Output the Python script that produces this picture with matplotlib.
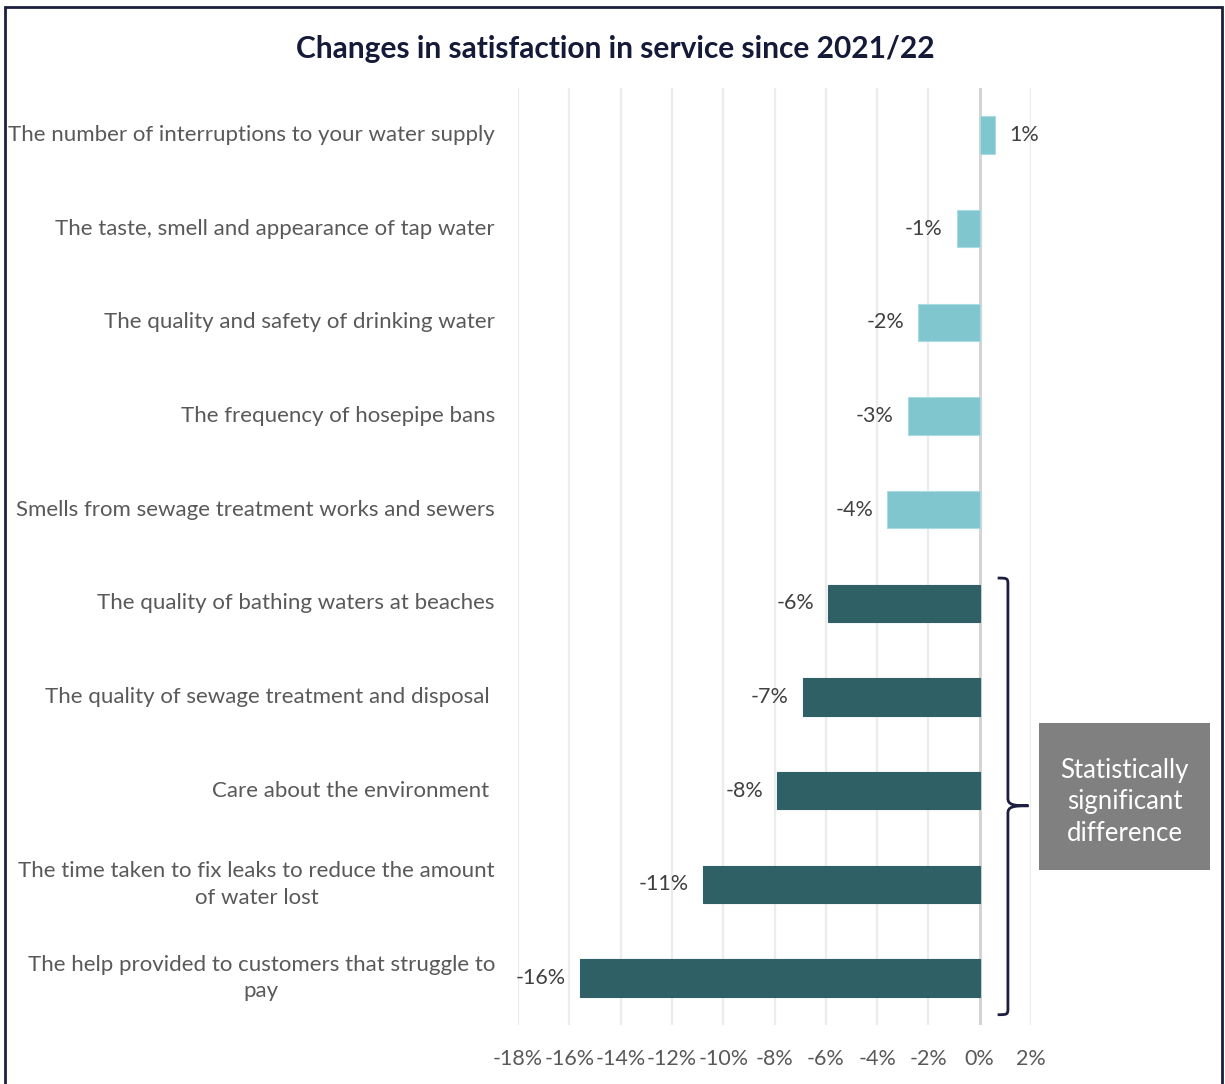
import matplotlib.pyplot as plt
import numpy as np
from matplotlib.patches import Rectangle, PathPatch
from matplotlib.path import Path
import matplotlib.transforms as mtransforms

plt.rcParams['font.family'] = ['Lato', 'DejaVu Sans']

# satisfaction change per service area, percentage points
services = [
    "The number of interruptions to your water supply",
    "The taste, smell and appearance of tap water",
    "The quality and safety of drinking water",
    "The frequency of hosepipe bans",
    "Smells from sewage treatment works and sewers",
    "The quality of bathing waters at beaches",
    "The quality of sewage treatment and disposal ",
    "Care about the environment ",
    "The time taken to fix leaks to reduce the amount\nof water lost",
    "The help provided to customers that struggle to\npay",
]
change = [0.6, -0.9, -2.4, -2.8, -3.6, -5.9, -6.9, -7.9, -10.8, -15.6]
significant = [False, False, False, False, False, True, True, True, True, True]
xticks = [-18, -16, -14, -12, -10, -8, -6, -4, -2, 0, 2]

W, H = 1225, 1084
fig = plt.figure(figsize=(W / 100, H / 100), dpi=100)
fig.patch.set_facecolor('white')

def fx(x):
    return x / W

def fy(y):
    return 1 - y / H

ax = fig.add_axes([fx(518), fy(1025), fx(1031) - fx(518), fy(88) - fy(1025)])

ypos = np.arange(len(services))
colors = ['#2e6066' if s else '#80c6cf' for s in significant]
edges = ['#2e6066' if s else '#a9dbe1' for s in significant]
ax.barh(ypos, change, height=0.40, color=colors, edgecolor=edges, linewidth=0.8, zorder=3)

ax.set_xlim(-18, 2)
ax.set_ylim(len(services) - 0.5, -0.5)
ax.set_xticks(xticks)
ax.set_xticklabels([f"{t}%" for t in xticks], fontsize=15.5, color='#595959')
ax.tick_params(axis='x', length=0, pad=17)
ax.set_yticks([])
for s in ax.spines.values():
    s.set_visible(False)
for t in xticks:
    if t == 0:
        ax.axvline(t, color='#d4d4d4', lw=2.2, zorder=2)
    else:
        ax.axvline(t, color='#ececec', lw=1.6, zorder=1)

# category labels, right-aligned against the plot area
for i, name in enumerate(services):
    ax.text(-18.9, i, name, ha='right', va='center', multialignment='center',
            fontsize=16, color='#595959', linespacing=1.4)

# value labels
for i, v in enumerate(change):
    lab = f"{round(v):.0f}%"
    if v >= 0:
        ax.text(v + 0.55, i, lab, ha='left', va='center', fontsize=15.5, color='#404040')
    else:
        ax.text(v - 0.55, i, lab, ha='right', va='center', fontsize=15.5, color='#404040')

# curly brace around the significant rows
trans = mtransforms.blended_transform_factory(ax.transData, ax.transData)
bx, tip = 1.1, 0.8
y0, y1 = 5 - 0.27, 9 + 0.39
ym = (y0 + y1) / 2 + 0.1
c = 0.06
verts = [
    (bx - 0.4, y0), (bx - 0.05, y0), (bx, y0), (bx, y0 + c),
    (bx, ym - 0.08),
    (bx, ym - 0.01), (bx + 0.2, ym), (bx + tip, ym),
    (bx + 0.2, ym), (bx, ym + 0.01), (bx, ym + 0.08),
    (bx, y1 - c),
    (bx, y1), (bx - 0.05, y1), (bx - 0.4, y1),
]
codes = [Path.MOVETO, Path.CURVE4, Path.CURVE4, Path.CURVE4,
         Path.LINETO,
         Path.CURVE4, Path.CURVE4, Path.CURVE4,
         Path.CURVE4, Path.CURVE4, Path.CURVE4,
         Path.LINETO,
         Path.CURVE4, Path.CURVE4, Path.CURVE4]
ax.add_patch(PathPatch(Path(verts, codes), transform=trans, facecolor='none',
                       edgecolor='#1c1f3f', lw=2, clip_on=False, zorder=4))

# note box
fig.patches.append(Rectangle((fx(1039), fy(870)), fx(1210) - fx(1039), fy(723) - fy(870),
                             transform=fig.transFigure, facecolor='#808080',
                             edgecolor='none'))
fig.text(fx(1124.5), fy(802), "Statistically\nsignificant\ndifference", ha='center',
         va='center', fontsize=18.5, color='white', linespacing=1.32)

fig.text(fx(615), fy(49), "Changes in satisfaction in service since 2021/22",
         ha='center', va='center', fontsize=21.5, fontweight='bold', color='#141a38')

# outer frame
fig.patches.append(Rectangle((fx(5), fy(1100)), fx(1222) - fx(5), fy(7) - fy(1100),
                             transform=fig.transFigure, facecolor='none',
                             edgecolor='#1c1f3f', lw=2, clip_on=False))

fig.savefig('out.png', dpi=100)
